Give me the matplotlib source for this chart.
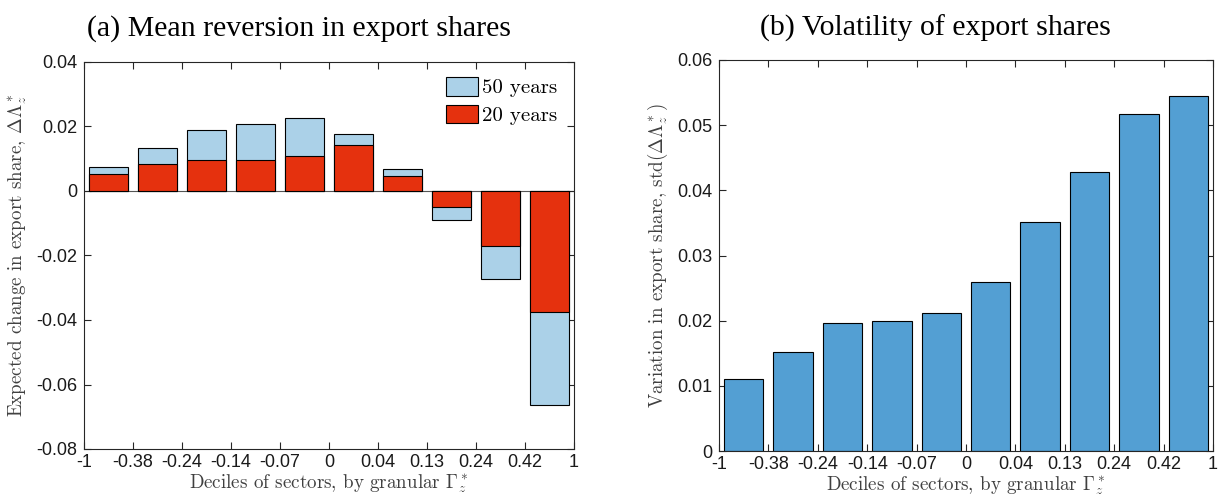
import matplotlib
matplotlib.use("Agg")
import matplotlib.pyplot as plt
import numpy as np

# decile edges (tick labels) and bar values
edge_labels = ["-1", "-0.38", "-0.24", "-0.14", "-0.07", "0", "0.04", "0.13", "0.24", "0.42", "1"]
mean_rev_50 = [0.0074, 0.0132, 0.0189, 0.0208, 0.0226, 0.0176, 0.0067, -0.0090, -0.0273, -0.0665]
mean_rev_20 = [0.0052, 0.0085, 0.0097, 0.0095, 0.0108, 0.0143, 0.0047, -0.0051, -0.0170, -0.0375]
volatility = [0.0111, 0.0152, 0.0197, 0.0199, 0.0211, 0.0259, 0.0351, 0.0428, 0.0517, 0.0545]

light_blue = "#abd1e8"
red = "#e5310e"
mid_blue = "#539fd3"
axcol = "#262626"
labcol = "#404040"

plt.rcParams["mathtext.fontset"] = "cm"
plt.rcParams["font.family"] = ["Liberation Sans", "DejaVu Sans"]

W, H = 1219, 497
fig = plt.figure(figsize=(W / 100, H / 100), dpi=100)


def px_axes(x0, x1, y0, y1):
    return fig.add_axes([x0 / W, 1 - y1 / H, (x1 - x0) / W, (y1 - y0) / H])


def style(ax):
    for s in ax.spines.values():
        s.set_color(axcol)
        s.set_linewidth(0.8)
    ax.tick_params(direction="in", top=True, right=True, length=5, width=0.8,
                   color=axcol, labelsize=13, labelcolor="#1a1a1a")
    ax.tick_params(axis="x", pad=3.5)
    ax.tick_params(axis="y", pad=5)
    ax.set_xlim(0, 10)
    ax.set_xticks(np.arange(11))
    ax.set_xticklabels(edge_labels)
    ax.set_xlabel(r"Deciles of sectors, by granular $\Gamma^*_z$", family="cmr10",
                  fontsize=13.7, color=labcol, labelpad=1)


centers = np.arange(10) + 0.5
bar_w = 0.8

# --- (a) Mean reversion ---
ax1 = px_axes(84, 574, 62, 449)
ax1.bar(centers, mean_rev_50, width=bar_w, color=light_blue, edgecolor="black",
        linewidth=0.8, label="50 years", zorder=2)
ax1.bar(centers, mean_rev_20, width=bar_w, color=red, edgecolor="black",
        linewidth=0.8, label="20 years", zorder=3)
ax1.axhline(0, color="#555555", linewidth=0.8, zorder=1)
ax1.set_ylim(-0.08, 0.04)
ax1.set_yticks(np.arange(-0.08, 0.041, 0.02))
ax1.set_yticklabels(["-0.08", "-0.06", "-0.04", "-0.02", "0", "0.02", "0.04"])
style(ax1)
ax1.set_ylabel(r"Expected change in export share, $\Delta\Lambda^*_z$", family="cmr10",
               fontsize=13.7, color=labcol, labelpad=5)
ax1.legend(loc="upper left", bbox_to_anchor=(446 / W, 1 - 77 / H),
           bbox_transform=fig.transFigure, frameon=False,
           prop={"family": "cmr10", "size": 15},
           handlelength=1.55, handleheight=1.0, handletextpad=0.2,
           borderpad=0, borderaxespad=0, labelspacing=0.35)

# --- (b) Volatility ---
ax2 = px_axes(719, 1213, 60, 451)
ax2.bar(centers, volatility, width=bar_w, color=mid_blue, edgecolor="black",
        linewidth=0.8, zorder=2)
ax2.set_ylim(0, 0.06)
ax2.set_yticks(np.arange(0, 0.061, 0.01))
ax2.set_yticklabels(["0", "0.01", "0.02", "0.03", "0.04", "0.05", "0.06"])
style(ax2)
ax2.set_ylabel(r"Variation in export share, std$(\Delta\Lambda^*_z)$", family="cmr10",
               fontsize=13.7, color=labcol, labelpad=5)

fig.text(299 / W, 1 - 36 / H, "(a) Mean reversion in export shares", ha="center",
         va="baseline", family="Liberation Serif", fontsize=21.5)
fig.text(935 / W, 1 - 36 / H, "(b) Volatility of export shares", ha="center",
         va="baseline", family="Liberation Serif", fontsize=21.5)

fig.savefig("out.png", dpi=100)
